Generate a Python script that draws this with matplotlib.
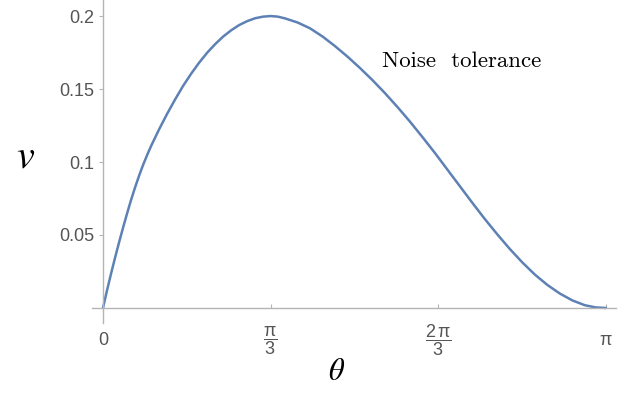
# Noise tolerance v against theta

import numpy as np
import matplotlib as mpl
mpl.use('Agg')
import matplotlib.pyplot as plt

# theta (rad) and v
theta = [0.0, 0.025, 0.05, 0.075, 0.1, 0.125, 0.15, 0.175, 0.2, 0.225,
         0.25, 0.275, 0.3, 0.35, 0.4, 0.45, 0.5, 0.55, 0.6, 0.65, 0.7,
         0.75, 0.8, 0.85, 0.9, 0.95, 1.0, 1.0472, 1.092, 1.137, 1.215,
         1.293, 1.371, 1.449, 1.527, 1.605, 1.683, 1.761, 1.839, 1.917,
         1.995, 2.073, 2.151, 2.229, 2.307, 2.385, 2.463, 2.541, 2.619,
         2.697, 2.775, 2.853, 2.931, 3.009, 3.075, 3.1416]
v = [0.0, 0.0120, 0.0234, 0.0343, 0.0448, 0.0549, 0.0646, 0.0739, 0.0825,
     0.0905, 0.0979, 0.1046, 0.1109, 0.1223, 0.1329, 0.1428, 0.1521,
     0.1604, 0.1680, 0.1748, 0.1807, 0.1859, 0.1902, 0.1938, 0.1965,
     0.1985, 0.1996, 0.2, 0.1996, 0.1984, 0.1956, 0.1916, 0.1860, 0.1794,
     0.1722, 0.1644, 0.1561, 0.1472, 0.1377, 0.1277, 0.1171, 0.1062,
     0.0948, 0.0834, 0.0720, 0.0609, 0.0504, 0.0404, 0.0312, 0.0229,
     0.0158, 0.0099, 0.0052, 0.0019, 0.0004, 0.0]

xtick_pos = [0, np.pi/3, 2*np.pi/3, np.pi]
xtick_lab = ['0', r'$\dfrac{\pi}{3}$', r'$\dfrac{2\,\pi}{3}$', r'$\pi$']
ytick_pos = [0.05, 0.1, 0.15, 0.2]
ytick_lab = ['0.05', '0.1', '0.15', '0.2']

mpl.rcParams['mathtext.fontset'] = 'custom'
mpl.rcParams['mathtext.rm'] = 'Liberation Sans'
mpl.rcParams['mathtext.it'] = 'Liberation Sans'
mpl.rcParams['mathtext.default'] = 'it'
mpl.rcParams['font.family'] = ['Liberation Sans', 'DejaVu Sans']

axcol = '#b4b4b4'
labcol = '#555555'

fig = plt.figure(figsize=(6.33, 3.93), dpi=100)
ax = fig.add_axes([92/633, 70/393, 524/633, 323/393])

ax.plot(theta, v, color='#5e81b5', lw=1.8, solid_capstyle='round')

ax.set_xlim(-0.0687, 3.204)
ax.set_ylim(-0.0103, 0.211)

for s in ['top', 'right']:
    ax.spines[s].set_visible(False)
ax.spines['left'].set_position(('data', 0))
ax.spines['bottom'].set_position(('data', 0))
for s in ['left', 'bottom']:
    ax.spines[s].set_color(axcol)
    ax.spines[s].set_linewidth(1.0)

ax.set_xticks(xtick_pos)
ax.set_xticklabels(xtick_lab)
ax.set_yticks(ytick_pos)
ax.set_yticklabels(ytick_lab)
ax.tick_params(axis='x', direction='in', length=3, color=axcol,
               labelcolor=labcol, labelsize=13, pad=23.5)
ax.tick_params(axis='y', direction='out', length=3, color=axcol,
               labelcolor=labcol, labelsize=13, pad=3)
for t in ax.get_xticklabels():
    t.set_verticalalignment('center')

fig.text(26/633, 1 - 156/393, r'$v$', fontsize=29, ha='center',
         va='center', math_fontfamily='stix')
fig.text(337/633, 1 - 372/393, r'$\theta$', fontsize=22, ha='center',
         va='center', math_fontfamily='stix')
fig.text(462/633, 1 - 61/393, 'Noise  tolerance', fontfamily='cmr10',
         fontsize=16.5, ha='center', va='center')

fig.savefig('out.png', dpi=100)
